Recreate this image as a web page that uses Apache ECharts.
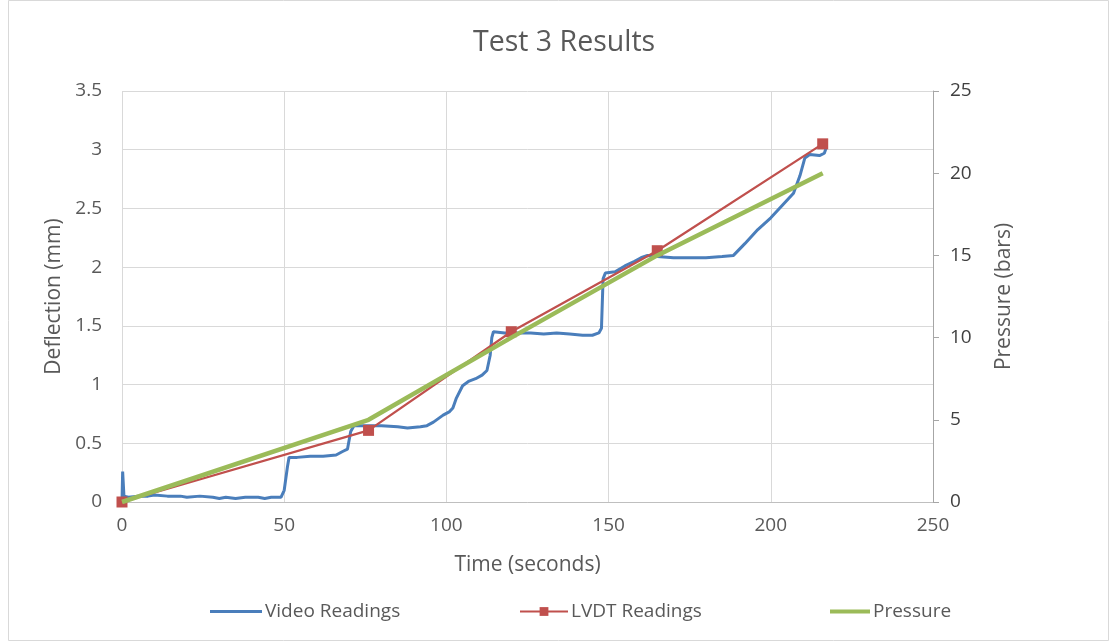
<!DOCTYPE html>
<html>
<head>
<meta charset="utf-8">
<script src="https://cdn.jsdelivr.net/npm/echarts@6/dist/echarts.min.js"></script>
<style>html,body{margin:0;padding:0;background:#fff}#c{width:1120px;height:643px}</style>
</head>
<body>
<div id="c"></div>
<script>
// Video readings: [time (s), deflection (mm)]
const videoReadings = [
  [0,0],[0.2,0.26],[0.6,0.05],[2,0.04],[5,0.05],[8,0.05],[10,0.06],[14,0.05],[18,0.05],[20,0.04],
  [24,0.05],[28,0.04],[30,0.03],[32,0.04],[35,0.03],[38,0.04],[42,0.04],[44,0.03],[46,0.04],[49,0.04],
  [50,0.10],[51,0.30],[51.5,0.38],[54,0.38],[58,0.39],[62,0.39],[66,0.40],[68,0.43],[69.5,0.45],
  [70.5,0.60],[71.5,0.65],[75,0.65],[80,0.65],[85,0.64],[88,0.63],[92,0.64],[94,0.65],[96,0.68],
  [99,0.74],[101,0.77],[102,0.80],[103,0.88],[105,0.99],[107,1.03],[109,1.05],[111,1.08],[112.5,1.12],
  [113.5,1.25],[114,1.40],[114.5,1.45],[118,1.44],[122,1.44],[126,1.44],[130,1.43],[134,1.44],
  [138,1.43],[142,1.42],[145,1.42],[147,1.44],[147.8,1.48],[148.3,1.90],[149,1.95],[152,1.96],
  [155,2.01],[158,2.05],[160,2.08],[162,2.10],[165,2.09],[170,2.08],[175,2.08],[180,2.08],[185,2.09],
  [188.5,2.10],[192,2.20],[196,2.32],[200,2.42],[204,2.54],[207,2.63],[209,2.78],[210.5,2.93],
  [212,2.96],[215,2.95],[216.5,2.97],[217,3.01]
];
const lvdtTimes = [0, 76, 120, 165, 216];
const lvdtValues = [0, 0.61, 1.45, 2.14, 3.05];
const pressureTimes = [0, 76, 120, 165, 216];
const pressureValues = [0, 5, 10, 15, 20];

const xTicks = [0, 50, 100, 150, 200, 250];
const leftTicks = [0, 0.5, 1, 1.5, 2, 2.5, 3, 3.5];
const rightTicks = [0, 5, 10, 15, 20, 25];

const FONT = '"Open Sans", sans-serif';
const TXT = '#595959';
const LBL = 19;
const NAME = 21;
const LEG = 19;

const chart = echarts.init(document.getElementById('c'), null, {renderer: 'canvas'});
chart.setOption({
  animation: false,
  backgroundColor: '#fff',
  textStyle: {fontFamily: FONT},
  graphic: [{type: 'rect', shape: {x: 8.5, y: 0.5, width: 1100, height: 640}, style: {fill: 'none', stroke: '#d9d9d9', lineWidth: 1}, silent: true}],
  title: {text: 'Test 3 Results', left: 473, top: 28, padding: 0,
    textStyle: {fontFamily: FONT, fontSize: 28.5, fontWeight: 'normal', color: TXT}},
  grid: {left: 122, right: 187, top: 91, bottom: 141},
  legend: [
    {data: ['Video Readings'], left: 210, top: 602, padding: 0, itemWidth: 52, itemHeight: 3, icon: 'rect',
      textStyle: {fontFamily: FONT, fontSize: LEG, color: TXT, padding: [0, 0, 0, -2]}},
    {data: ['LVDT Readings'], left: 519, top: 602, padding: 0, itemWidth: 48, itemHeight: 11,
      textStyle: {fontFamily: FONT, fontSize: LEG, color: TXT, padding: [0, 0, 0, -2]}},
    {data: ['Pressure'], left: 830, top: 602, padding: 0, itemWidth: 40, itemHeight: 4, icon: 'rect',
      textStyle: {fontFamily: FONT, fontSize: LEG, color: TXT, padding: [0, 0, 0, -2]}}
  ],
  xAxis: {type: 'value', min: xTicks[0], max: xTicks[xTicks.length-1], interval: xTicks[1]-xTicks[0],
    name: 'Time (seconds)', nameLocation: 'middle', nameGap: 53,
    nameTextStyle: {fontFamily: FONT, fontSize: NAME, color: TXT},
    axisLine: {show: true, onZero: false, lineStyle: {color: '#bfbfbf', width: 1}},
    axisTick: {show: false},
    axisLabel: {fontFamily: FONT, fontSize: LBL, color: TXT, margin: 14},
    splitLine: {show: true, lineStyle: {color: '#d9d9d9', width: 1}}},
  yAxis: [
    {type: 'value', min: leftTicks[0], max: leftTicks[leftTicks.length-1], interval: leftTicks[1]-leftTicks[0],
      name: 'Deflection (mm)', nameLocation: 'middle', nameGap: 55,
      nameTextStyle: {fontFamily: FONT, fontSize: NAME, color: TXT},
      axisLine: {show: false}, axisTick: {show: false},
      axisLabel: {fontFamily: FONT, fontSize: LBL, color: TXT, margin: 20},
      splitLine: {show: true, lineStyle: {color: '#d9d9d9', width: 1}}},
    {type: 'value', position: 'right', min: rightTicks[0], max: rightTicks[rightTicks.length-1], interval: rightTicks[1]-rightTicks[0],
      name: 'Pressure (bars)', nameLocation: 'middle', nameGap: 61,
      nameTextStyle: {fontFamily: FONT, fontSize: NAME, color: TXT},
      axisLine: {show: true, lineStyle: {color: '#a6a6a6', width: 1}},
      axisTick: {show: true, inside: false, length: 6, lineStyle: {color: '#a6a6a6'}},
      axisLabel: {fontFamily: FONT, fontSize: LBL, color: '#404040', margin: 17},
      splitLine: {show: false}}
  ],
  series: [
    {name: 'Video Readings', type: 'line', yAxisIndex: 0, data: videoReadings, showSymbol: false, symbol: 'none',
      lineStyle: {color: '#4a7ebb', width: 3}, itemStyle: {color: '#4a7ebb'}, z: 2},
    {name: 'LVDT Readings', type: 'line', yAxisIndex: 0, data: lvdtTimes.map((t,i)=>[t, lvdtValues[i]]),
      symbol: 'rect', symbolSize: 11, showSymbol: true,
      lineStyle: {color: '#c0504d', width: 2.25}, itemStyle: {color: '#c0504d'}, z: 3},
    {name: 'Pressure', type: 'line', yAxisIndex: 1, data: pressureTimes.map((t,i)=>[t, pressureValues[i]]),
      symbol: 'none', showSymbol: false,
      lineStyle: {color: '#9bbb59', width: 4.5}, itemStyle: {color: '#9bbb59'}, z: 4}
  ]
});
</script>
</body>
</html>
